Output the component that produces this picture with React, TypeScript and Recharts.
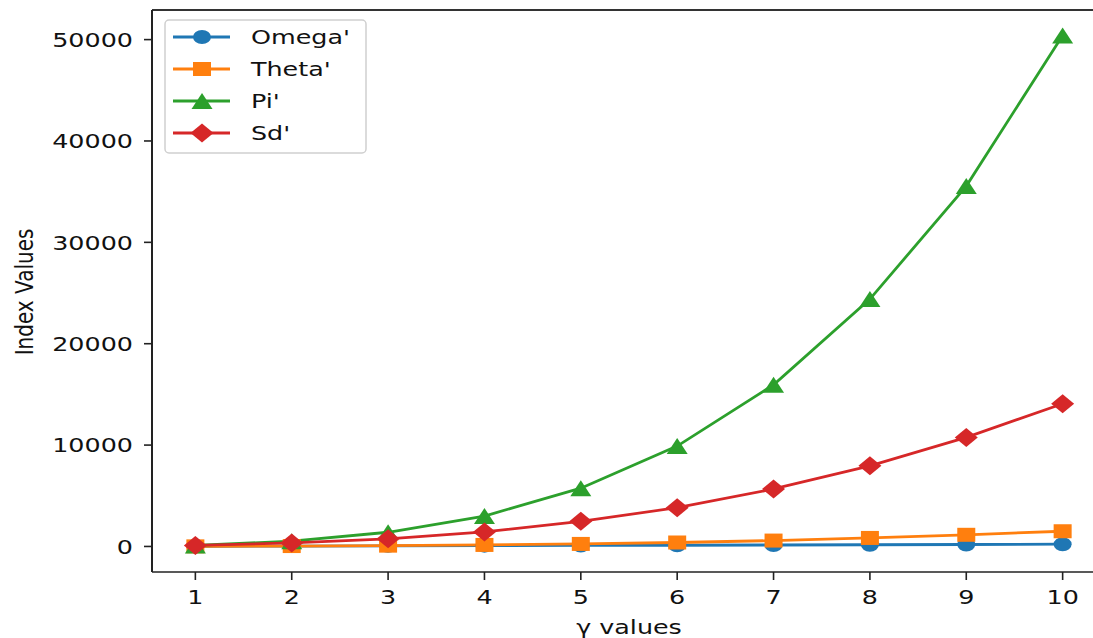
import React from 'react';
import { LineChart, Line, XAxis, YAxis, Legend, ReferenceLine, Label } from 'recharts';

const gammaValues = [1, 2, 3, 4, 5, 6, 7, 8, 9, 10];
const omegaValues = [20, 40, 60, 80, 100, 120, 145, 170, 195, 220];
const thetaValues = [10, 40, 80, 150, 250, 390, 580, 840, 1150, 1500];
const piValues = [100, 520, 1400, 3000, 5750, 9900, 15950, 24400, 35550, 50400];
const sdValues = [100, 350, 750, 1430, 2480, 3820, 5670, 7950, 10760, 14080];
const yTicks = [0, 10000, 20000, 30000, 40000, 50000];
const xTicks = gammaValues;
const seriesNames = ["Omega'", "Theta'", "Pi'", "Sd'"];

const SX = 1.27;
const FONT = '"DejaVu Sans", Verdana, sans-serif';
const TEXT = '#111';

const series = [
  { key: 'omega', name: seriesNames[0], color: '#1f77b4', marker: 'circle', values: omegaValues },
  { key: 'theta', name: seriesNames[1], color: '#ff7f0e', marker: 'square', values: thetaValues },
  { key: 'pi', name: seriesNames[2], color: '#2ca02c', marker: 'triangle', values: piValues },
  { key: 'sd', name: seriesNames[3], color: '#d62728', marker: 'diamond', values: sdValues },
];

const data = gammaValues.map((g, i) => {
  const row: Record<string, number> = { x: g };
  series.forEach((s) => {
    row[s.key] = s.values[i];
  });
  return row;
});

function Marker({ kind, cx, cy, color }: { kind: string; cx: number; cy: number; color: string }) {
  switch (kind) {
    case 'circle':
      return <ellipse cx={cx} cy={cy} rx={9} ry={7} fill={color} />;
    case 'square':
      return <rect x={cx - 9} y={cy - 7} width={18} height={14} fill={color} />;
    case 'triangle':
      return <polygon points={`${cx},${cy - 8} ${cx - 10.5},${cy + 8} ${cx + 10.5},${cy + 8}`} fill={color} />;
    default:
      return (
        <polygon
          points={`${cx},${cy - 9.5} ${cx + 11.5},${cy} ${cx},${cy + 9.5} ${cx - 11.5},${cy}`}
          fill={color}
        />
      );
  }
}

const XTick = (props: any) => {
  const { x, payload } = props;
  return (
    <text
      transform={`translate(${x},604) scale(${SX},1)`}
      textAnchor="middle"
      fontFamily={FONT}
      fontSize={20}
      fill={TEXT}
    >
      {payload.value}
    </text>
  );
};

const YTick = (props: any) => {
  const { y, payload } = props;
  return (
    <text
      transform={`translate(133,${y + 7.3}) scale(${SX},1)`}
      textAnchor="end"
      fontFamily={FONT}
      fontSize={20}
      fill={TEXT}
    >
      {payload.value}
    </text>
  );
};

const XLabel = (props: any) => {
  const vb = props.viewBox || { x: 152, width: 954 };
  const cx = vb.x + vb.width / 2;
  return (
    <text
      transform={`translate(${cx},634) scale(${SX},1)`}
      textAnchor="middle"
      fontFamily={FONT}
      fontSize={20}
      fill={TEXT}
    >
      γ values
    </text>
  );
};

const YLabel = (props: any) => {
  const vb = props.viewBox || { y: 10, height: 562 };
  const cy = vb.y + vb.height / 2 + 1;
  return (
    <text
      transform={`translate(33,${cy}) scale(${SX},1) rotate(-90)`}
      textAnchor="middle"
      fontFamily={FONT}
      fontSize={20}
      fill={TEXT}
    >
      Index Values
    </text>
  );
};

const LegendBox = () => {
  const rowY = [18, 50, 82, 114];
  return (
    <svg width={204} height={136} style={{ display: 'block' }}>
      <rect x={1} y={1} width={201} height={133} rx={4} ry={4} fill="#ffffff" fillOpacity={0.85} stroke="#cfcfcf" strokeWidth={1.5} />
      {series.map((s, i) => (
        <g key={s.key}>
          <line x1={9} x2={66} y1={rowY[i]} y2={rowY[i]} stroke={s.color} strokeWidth={2.8} />
          <Marker kind={s.marker} cx={38} cy={rowY[i]} color={s.color} />
          <text
            transform={`translate(87,${rowY[i] + 7.3}) scale(${SX},1)`}
            fontFamily={FONT}
            fontSize={20}
            fill={TEXT}
          >
            {s.name}
          </text>
        </g>
      ))}
    </svg>
  );
};

export default function App() {
  return (
    <div style={{ position: 'absolute', left: 0, top: 0, width: 1093, height: 638, overflow: 'hidden', background: '#fff' }}>
      <LineChart width={1110} height={638} data={data} margin={{ top: 10, right: 4, left: 0, bottom: 0 }}>
        <XAxis
          dataKey="x"
          type="number"
          domain={[0.55, 10.45]}
          ticks={xTicks}
          allowDataOverflow
          height={66}
          tickSize={8}
          tick={<XTick />}
          axisLine={{ stroke: '#222', strokeWidth: 1.6 }}
          tickLine={{ stroke: '#222', strokeWidth: 1.6 }}
        >
          <Label content={<XLabel />} />
        </XAxis>
        <YAxis
          type="number"
          domain={[-2520, 52920]}
          ticks={yTicks}
          allowDataOverflow
          width={152}
          tickSize={8}
          tick={<YTick />}
          axisLine={{ stroke: '#222', strokeWidth: 2 }}
          tickLine={{ stroke: '#222', strokeWidth: 1.6 }}
        >
          <Label content={<YLabel />} />
        </YAxis>
        <ReferenceLine y={52920} stroke="#333" strokeWidth={1.8} ifOverflow="visible" />
        {series.map((s) => (
          <Line
            key={s.key}
            dataKey={s.key}
            name={s.name}
            stroke={s.color}
            strokeWidth={2.8}
            isAnimationActive={false}
            dot={(p: any) => <Marker key={`${s.key}-${p.index}`} kind={s.marker} cx={p.cx} cy={p.cy} color={s.color} />}
            activeDot={false}
          />
        ))}
        <Legend
          layout="vertical"
          align="center"
          verticalAlign="middle"
          content={<LegendBox />}
          wrapperStyle={{ left: 164, top: 19, width: 204, height: 136 }}
        />
      </LineChart>
    </div>
  );
}
